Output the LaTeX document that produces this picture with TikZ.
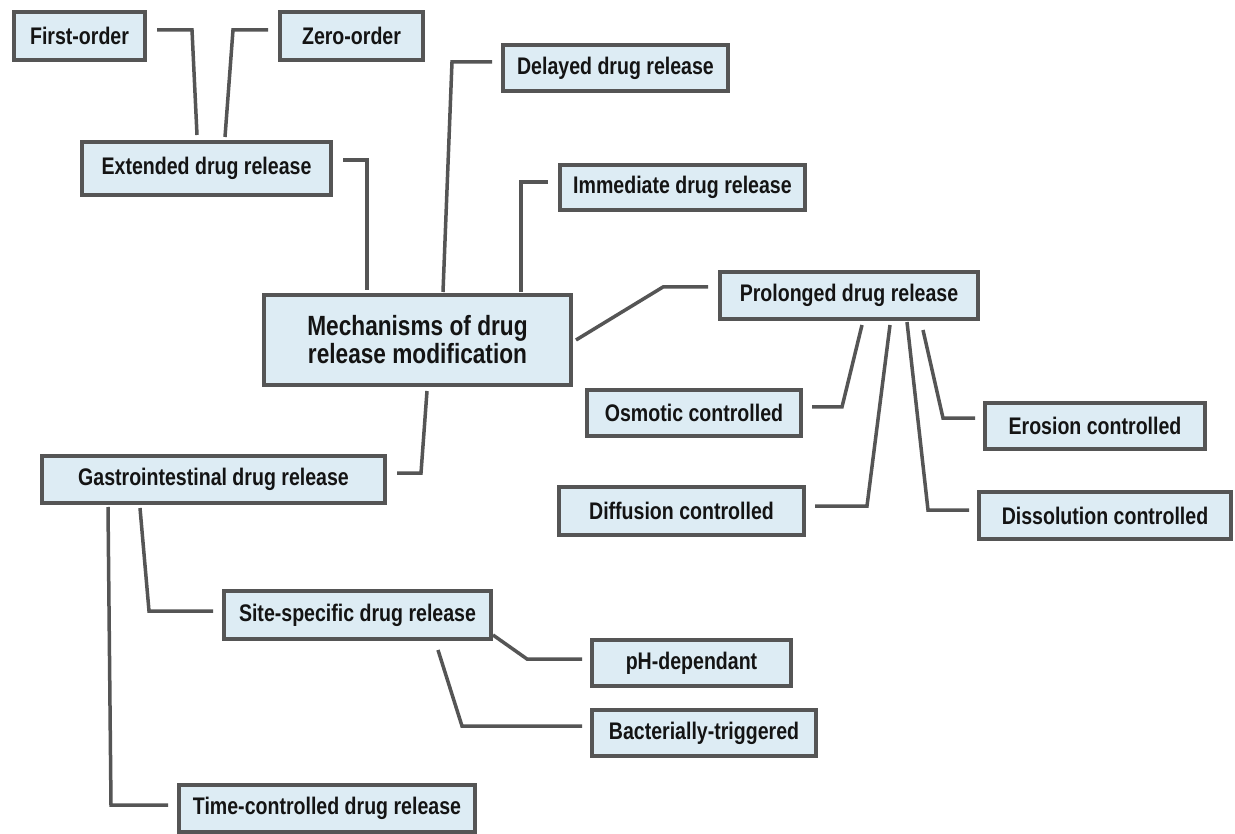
\documentclass[tikz,border=0pt]{standalone}
\usepackage{fontspec}
\setmainfont{Liberation Sans}[FakeStretch=0.815]
\definecolor{boxfill}{RGB}{221,236,244}
\definecolor{boxline}{RGB}{85,85,85}
\definecolor{connline}{RGB}{85,85,85}
\definecolor{txt}{RGB}{20,20,20}
\tikzset{
  dbox/.style={draw=boxline, line width=4pt, fill=boxfill, inner sep=0pt,
    text=txt, font=\fontsize{24}{26}\selectfont\bfseries, align=center},
  mainbox/.style={dbox, font=\fontsize{27.8}{28}\selectfont\bfseries},
  conn/.style={draw=connline, line width=3.5pt, line join=miter}
}
\newcommand{\bx}[6]{\node[#1, minimum width=#4pt, minimum height=#5pt] (#2) at (#3) {#6};}
\begin{document}
\begin{tikzpicture}[x=1pt,y=-1pt]
\useasboundingbox[fill=white] (0,0) rectangle (1235,834);
% boxes (path size = outer size - 4)
\bx{dbox}{first}{79.5,36}{131}{48}{First-order}
\bx{dbox}{zero}{351.5,36}{143}{48}{Zero-order}
\bx{dbox}{delayed}{615.5,68}{225}{46}{Delayed drug release}
\bx{dbox}{ext}{206.5,168.5}{249}{53}{Extended drug release}
\bx{dbox}{immediate}{682.5,187.5}{245}{45}{Immediate drug release}
\bx{mainbox}{mech}{417.5,340}{307}{90}{Mechanisms of drug\\release modification}
\bx{dbox}{prolonged}{849,295.5}{258}{47}{Prolonged drug release}
\bx{dbox}{osmotic}{694,413}{214}{46}{Osmotic controlled}
\bx{dbox}{erosion}{1095,426}{220}{46}{Erosion controlled}
\bx{dbox}{gastro}{213.5,479.5}{343}{47}{Gastrointestinal drug release}
\bx{dbox}{diffusion}{681.5,511}{245}{48}{Diffusion controlled}
\bx{dbox}{dissolution}{1105,515.5}{252}{47}{Dissolution controlled}
\bx{dbox}{site}{357.5,615}{267}{48}{Site-specific drug release}
\bx{dbox}{ph}{691.5,663}{199}{46}{pH-dependant}
\bx{dbox}{bact}{704,733}{224}{46}{Bacterially-triggered}
\bx{dbox}{time}{327,808.5}{296}{47}{Time-controlled drug release}
% connectors
\draw[conn] ([xshift=10,yshift=6]first.east) -- (192,30) -- ([xshift=-9.5,yshift=5]ext.north);
\draw[conn] ([xshift=-10,yshift=6]zero.west) -- (233,30) -- ([xshift=18.5,yshift=3]ext.north);
\draw[conn] ([xshift=10,yshift=8.5]ext.east) -- (367,160) -- ([xshift=-50.5,yshift=3]mech.north);
\draw[conn] ([xshift=25.5,yshift=1]mech.north) -- (452,62) -- ([xshift=-9,yshift=6]delayed.west);
\draw[conn] ([xshift=103.5,yshift=1]mech.north) -- (521,182) -- ([xshift=-10,yshift=5.5]immediate.west);
\draw[conn] ([xshift=3]mech.east) -- (663,287) -- ([xshift=-10,yshift=8.5]prolonged.west);
\draw[conn] ([xshift=13,yshift=-4]prolonged.south) -- (842,407) -- ([xshift=9,yshift=6]osmotic.east);
\draw[conn] ([xshift=41,yshift=-4]prolonged.south) -- (867,506) -- ([xshift=9,yshift=5]diffusion.east);
\draw[conn] ([xshift=58,yshift=-1]prolonged.south) -- (928,510) -- ([xshift=-8,yshift=5.5]dissolution.west);
\draw[conn] ([xshift=74,yshift=-9]prolonged.south) -- (943,418) -- ([xshift=-8,yshift=8]erosion.west);
\draw[conn] ([xshift=9.5,yshift=-4]mech.south) -- (421,473) -- ([xshift=10,yshift=6.5]gastro.east);
\draw[conn] ([xshift=-105.5,yshift=-2]gastro.south) -- (111,805) -- ([xshift=-9,yshift=3.5]time.west);
\draw[conn] ([xshift=-73.5,yshift=-3]gastro.south) -- (149,611) -- ([xshift=-9,yshift=4]site.west);
\draw[conn] ([yshift=6]site.south east) -- (527,659) -- ([xshift=-8,yshift=4]ph.west);
\draw[conn] ([xshift=80.5,yshift=-9]site.south) -- (462,726) -- ([xshift=-8,yshift=7]bact.west);
\end{tikzpicture}
\end{document}
